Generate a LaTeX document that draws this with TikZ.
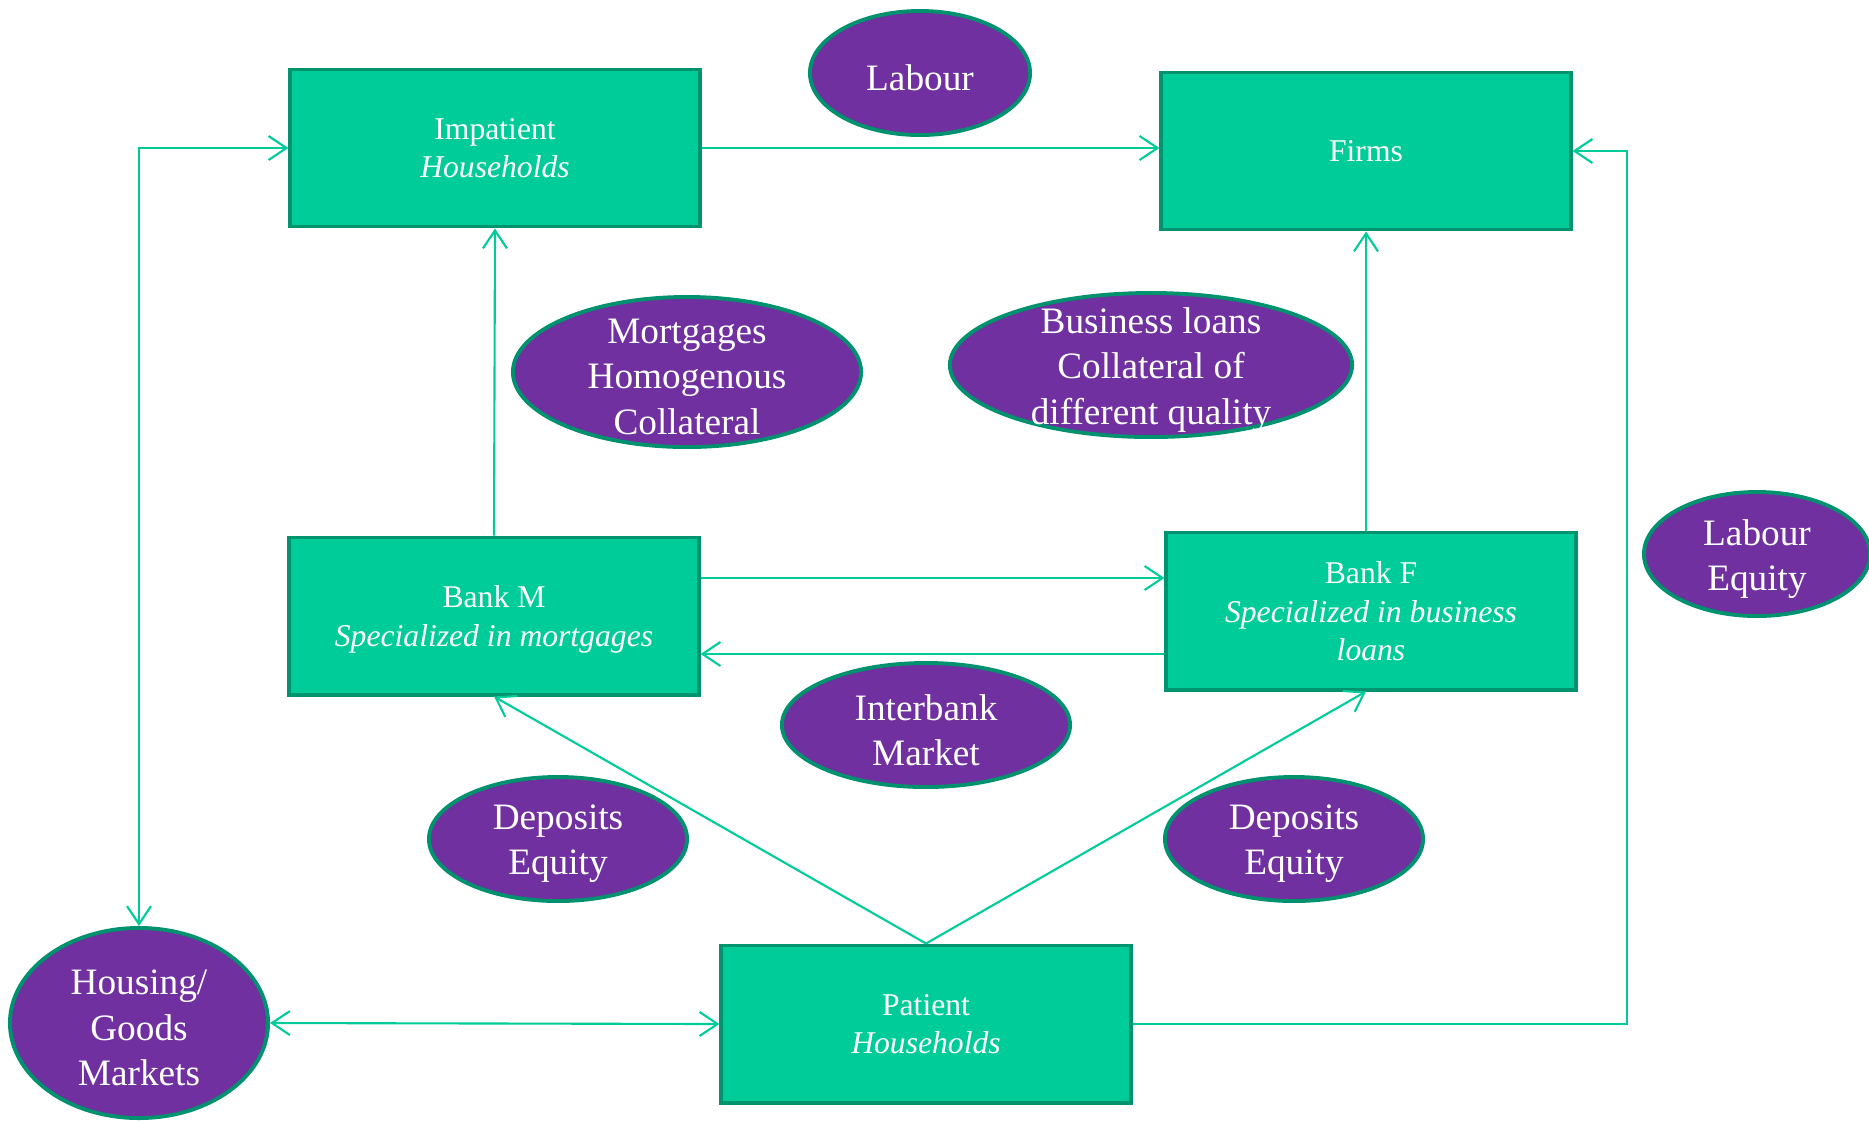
\documentclass[tikz,border=0pt]{standalone}
\usepackage{fontspec}
\setmainfont{Liberation Serif}
\usetikzlibrary{shapes.geometric,arrows.meta}

\definecolor{boxgreen}{HTML}{00CC99}
\definecolor{boxline}{HTML}{00936F}
\definecolor{ovalpurple}{HTML}{7030A0}
\definecolor{ovalline}{HTML}{00916E}

\tikzset{
  agent/.style={draw=boxline, fill=boxgreen, line width=1.1pt, rectangle,
    minimum width=4.09cm, minimum height=1.57cm, inner sep=0pt, align=center,
    text depth=-2pt, text=white, font=\fontsize{9}{11}\selectfont},
  market/.style={draw=ovalline, fill=ovalpurple, line width=1.1pt, ellipse, inner sep=0pt},
  mtext/.style={align=center, inner sep=0pt, yshift=-1.4pt, text=white,
    font=\fontsize{10.6}{12.9}\selectfont},
  arr/.style={draw=boxgreen, line width=0.6pt, -{Straight Barb[length=1.8mm,width=2.4mm]}},
  barr/.style={draw=boxgreen, line width=0.6pt, {Straight Barb[length=1.8mm,width=2.4mm]}-{Straight Barb[length=1.8mm,width=2.4mm]}}
}

\begin{document}
\begin{tikzpicture}[x=0.01cm, y=-0.01cm]
    \useasboundingbox (0,0) rectangle (1869,1120);

    % Agents
    \node[agent] (imp) at (495,148) {Impatient\\\textit{Households}};
    \node[agent] (firms) at (1366,151) {Firms};
    \node[agent] (bankm) at (494,616) {Bank M\\\textit{Specialized in mortgages}};
    \node[agent] (bankf) at (1371,611) {Bank F\\\textit{Specialized in business}\\\textit{loans}};
    \node[agent] (pat) at (926,1024) {Patient\\\textit{Households}};

    % Markets
    \node[market, minimum width=2.2cm, minimum height=1.24cm,
      label={[mtext]center:Labour}] (labour) at (920,73) {};
    \node[market, minimum width=3.48cm, minimum height=1.5cm,
      label={[mtext]center:{Mortgages\\Homogenous\\Collateral}}] (mort) at (687,372) {};
    \node[market, minimum width=4.02cm, minimum height=1.44cm,
      label={[mtext]center:{Business loans\\Collateral of\\different quality}}] (busl) at (1151,365) {};
    \node[market, minimum width=2.26cm, minimum height=1.24cm,
      label={[mtext]center:{Labour\\Equity}}] (labeq) at (1757,554) {};
    \node[market, minimum width=2.88cm, minimum height=1.24cm,
      label={[mtext]center:{Interbank\\Market}}] (inter) at (926,725) {};
    \node[market, minimum width=2.58cm, minimum height=1.24cm,
      label={[mtext]center:{Deposits\\Equity}}] (depl) at (558,839) {};
    \node[market, minimum width=2.58cm, minimum height=1.24cm,
      label={[mtext]center:{Deposits\\Equity}}] (depr) at (1294,839) {};
    \node[market, minimum width=2.58cm, minimum height=1.9cm,
      label={[mtext]center:{Housing/\\Goods\\Markets}}] (housing) at (139,1023) {};

    % Helper points
    \coordinate (ibtop) at (0,578);
    \coordinate (ibbot) at (0,654);
    \coordinate (rloop) at (1627,0);

    % Edges
    \draw[arr] (imp.east) -- (imp.east -| firms.west);
    \draw[barr] (imp.west) -| (housing.north);
    \draw[arr] (bankm.north) -- (imp.south);
    \draw[arr] (bankf.north -| firms.south) -- (firms.south);
    \draw[arr] (bankm.east |- ibtop) -- (bankf.west |- ibtop);
    \draw[arr] (bankf.west |- ibbot) -- (bankm.east |- ibbot);
    \draw[arr] (pat.north) -- (bankm.south);
    \draw[arr] (pat.north) -- (bankf.south -| firms.south);
    \draw[barr] (housing.east) -- (pat.west);
    \draw[arr] (pat.east) -- (pat.east -| rloop) |- (firms.east);
\end{tikzpicture}
\end{document}
